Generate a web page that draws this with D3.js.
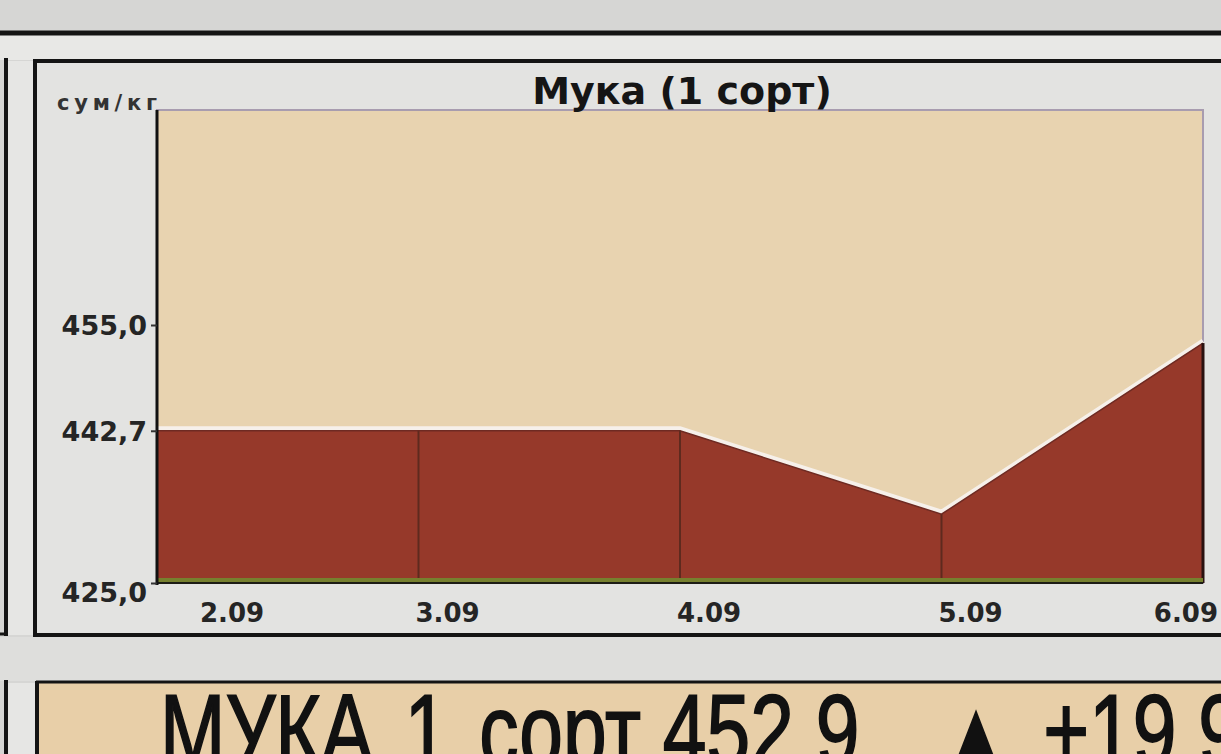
<!DOCTYPE html>
<html>
<head>
<meta charset="utf-8">
<script src="https://cdn.jsdelivr.net/npm/d3@7"></script>
<style>
    body { margin: 0; background: #d4d4d2; }
    svg { display: block; }
</style>
</head>
<body>
<script>
// flour price chart, newspaper clip

//dates on the x axis
var dates = ["2.09", "3.09", "4.09", "5.09", "6.09"];

//price per kg for each date
var prices = [442.7, 442.7, 442.7, 433.0, 452.9];

//labelled ticks on the y axis
var yTicks = [425.0, 442.7, 455.0];

//y axis range
var yDomain = [425, 480];

//headline strip under the chart
var headName = "МУКА 1 сорт";
var headValue = "452.9";
var headChange = "+19.9";

var w = 1221, h = 754;

var svg = d3.select("body")
    .append("svg")
    .attr("width", w)
    .attr("height", h);

//page background
svg.append("rect")
    .attr("width", w)
    .attr("height", h)
    .style("fill", "#d6d6d4");

//light strip between the double rules
svg.append("rect")
    .attr("x", 0).attr("y", 35)
    .attr("width", w).attr("height", 25)
    .style("fill", "#e8e8e6");

//gap under the chart panel
svg.append("rect")
    .attr("x", 0).attr("y", 637)
    .attr("width", w).attr("height", 44)
    .style("fill", "#dededc");

//panel of the chart
svg.append("rect")
    .attr("x", 36).attr("y", 61)
    .attr("width", w).attr("height", 574)
    .style("fill", "#e3e3e1");

//strip left of the panel
svg.append("rect")
    .attr("x", 7).attr("y", 61)
    .attr("width", 28).attr("height", 574)
    .style("fill", "#e6e6e4");

//panel of the headline
svg.append("rect")
    .attr("x", 38).attr("y", 683)
    .attr("width", w).attr("height", 80)
    .style("fill", "#e8cfa8");

svg.append("rect")
    .attr("x", 7).attr("y", 683)
    .attr("width", 29).attr("height", 80)
    .style("fill", "#e6e6e4");

//frame lines
var rules = svg.append("g")
    .style("stroke", "#141414");

rules.append("line").attr("x1", 0).attr("x2", w).attr("y1", 33).attr("y2", 33).style("stroke-width", 5);
rules.append("line").attr("x1", 33).attr("x2", w).attr("y1", 61).attr("y2", 61).style("stroke-width", 4);
rules.append("line").attr("x1", 35).attr("x2", 35).attr("y1", 59).attr("y2", 637).style("stroke-width", 4);
rules.append("line").attr("x1", 33).attr("x2", w).attr("y1", 635).attr("y2", 635).style("stroke-width", 4);
rules.append("line").attr("x1", 6).attr("x2", 6).attr("y1", 58).attr("y2", 636).style("stroke-width", 4);
rules.append("line").attr("x1", 0).attr("x2", 8).attr("y1", 634).attr("y2", 634).style("stroke-width", 3);
rules.append("line").attr("x1", 36).attr("x2", w).attr("y1", 682).attr("y2", 682).style("stroke-width", 3);
rules.append("line").attr("x1", 37).attr("x2", 37).attr("y1", 681).attr("y2", h).style("stroke-width", 4);
rules.append("line").attr("x1", 6).attr("x2", 6).attr("y1", 680).attr("y2", h).style("stroke-width", 4);

//scales
var x = d3.scalePoint()
    .domain(dates)
    .range([157, 1203]);

var y = d3.scaleLinear()
    .domain(yDomain)
    .range([583, 110]);

var series = dates.map(function(d, i) { return { date: d, price: prices[i] }; });

//plot background
svg.append("rect")
    .attr("x", x.range()[0])
    .attr("y", y.range()[1])
    .attr("width", x.range()[1] - x.range()[0])
    .attr("height", y.range()[0] - y.range()[1])
    .style("fill", "#e8d3b0")
    .style("stroke", "#a89caf")
    .style("stroke-width", 2);

//light edge above the area
var line = d3.line()
    .x(function(d) { return x(d.date); })
    .y(function(d) { return y(d.price); });

svg.append("path")
    .datum(series)
    .attr("d", line)
    .attr("transform", "translate(0,-2)")
    .style("fill", "none")
    .style("stroke", "#f6f0ea")
    .style("stroke-width", 5);

//the area
var area = d3.area()
    .x(function(d) { return x(d.date); })
    .y0(y(yDomain[0]))
    .y1(function(d) { return y(d.price); });

svg.append("path")
    .datum(series)
    .attr("d", area)
    .style("fill", "#96392a");

svg.append("path")
    .datum(series)
    .attr("d", line)
    .style("fill", "none")
    .style("stroke", "#6e2a22")
    .style("stroke-width", 1.5);

//drop lines at each date
svg.selectAll(".drop")
    .data(series.slice(1))
    .enter()
    .append("line")
    .attr("class", "drop")
    .attr("x1", function(d) { return x(d.date); })
    .attr("x2", function(d) { return x(d.date); })
    .attr("y1", function(d) { return y(d.price); })
    .attr("y2", y(yDomain[0]))
    .style("stroke", function(d, i) { return i === series.length - 2 ? "#2a1210" : "#5e2a1e"; })
    .style("stroke-width", function(d, i) { return i === series.length - 2 ? 3 : 2; });

//green base line
svg.append("line")
    .attr("x1", x.range()[0])
    .attr("x2", x.range()[1])
    .attr("y1", y(yDomain[0]) - 3)
    .attr("y2", y(yDomain[0]) - 3)
    .style("stroke", "#76802e")
    .style("stroke-width", 4);

svg.append("line")
    .attr("x1", x.range()[0])
    .attr("x2", x.range()[1])
    .attr("y1", y(yDomain[0]))
    .attr("y2", y(yDomain[0]))
    .style("stroke", "#1c1c14")
    .style("stroke-width", 2);

//y axis
var fmt = d3.format(".1f");
var yAxis = d3.axisLeft(y)
    .tickValues(yTicks)
    .tickSize(6)
    .tickFormat(function(d) { return fmt(d).replace(".", ","); });

var yG = svg.append("g")
    .attr("transform", "translate(" + x.range()[0] + ",0)")
    .call(yAxis);

yG.select(".domain")
    .attr("d", "M0," + (y.range()[1]) + "V" + (y.range()[0] + 2))
    .style("stroke", "#111")
    .style("stroke-width", 3);

yG.selectAll(".tick line").style("stroke", "#333").style("stroke-width", 2);

yG.selectAll(".tick text")
    .attr("x", -10)
    .attr("dy", function(d) { return d === yDomain[0] ? "0.7em" : "0.35em"; })
    .style("font-family", "DejaVu Sans, sans-serif")
    .style("font-weight", "bold")
    .style("font-size", "27px")
    .style("fill", "#252525");

//x labels
var xG = svg.append("g");
xG.selectAll("text")
    .data(dates)
    .enter()
    .append("text")
    .attr("x", function(d, i) {
        if (i === 0) return x(d) + 43;
        if (i === dates.length - 1) return x(d) + 15;
        return x(d) - 3;
    })
    .attr("y", 622)
    .attr("text-anchor", function(d, i) { return i === dates.length - 1 ? "end" : "start"; })
    .style("font-family", "DejaVu Sans, sans-serif")
    .style("font-weight", "bold")
    .style("font-size", "26px")
    .style("fill", "#252525")
    .text(function(d) { return d; });

//unit and title
svg.append("text")
    .attr("x", 57)
    .attr("y", 110)
    .attr("textLength", 100)
    .attr("lengthAdjust", "spacing")
    .style("font-family", "DejaVu Sans, sans-serif")
    .style("font-weight", "bold")
    .style("font-size", "21px")
    .style("fill", "#333")
    .text("сум/кг");

svg.append("text")
    .attr("x", 682)
    .attr("y", 104)
    .attr("text-anchor", "middle")
    .style("font-family", "DejaVu Sans, sans-serif")
    .style("font-weight", "bold")
    .style("font-size", "38px")
    .style("fill", "#151515")
    .text("Мука (1 сорт)");

//headline strip
var head = svg.append("g")
    .attr("transform", "translate(160,766) scale(0.77,1)")
    .style("font-family", "Liberation Sans, Arial, sans-serif")
    .style("font-size", "102px")
    .style("fill", "#111")
    .style("stroke", "#111")
    .style("stroke-width", 1.8);

head.append("text").attr("x", 0).attr("word-spacing", 12).text(headName);
head.append("text").attr("x", 653).text(headValue);
head.append("text").attr("x", 1020).style("font-size", "80px").attr("y", -8).text("▲");
head.append("text").attr("x", 1147).text(headChange);
</script>
</body>
</html>
